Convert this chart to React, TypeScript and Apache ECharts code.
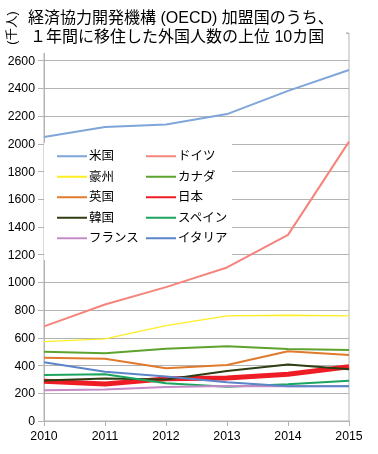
import React, { useEffect, useRef } from "react";
import * as echarts from "echarts";

const years = ["2010", "2011", "2012", "2013", "2014", "2015"];

const seriesNames = ["米国", "ドイツ", "豪州", "カナダ", "英国", "日本", "韓国", "スペイン", "フランス", "イタリア"];
const usa = [2050, 2122, 2140, 2215, 2382, 2533];
const germany = [683, 841, 966, 1108, 1343, 2016];
const australia = [573, 592, 688, 758, 763, 758];
const canada = [500, 489, 522, 540, 520, 512];
const uk = [457, 450, 380, 404, 503, 477];
const japan = [287, 267, 304, 310, 337, 391];
const korea = [293, 307, 300, 360, 407, 373];
const spain = [332, 337, 272, 248, 265, 291];
const france = [222, 228, 245, 252, 250, 252];
const italy = [424, 356, 321, 279, 250, 250];

const seriesValues = [usa, germany, australia, canada, uk, japan, korea, spain, france, italy];
const seriesColors = ["#7ea6da", "#f4847c", "#ffee22", "#5ea32e", "#e07a2c", "#ee1c25", "#2e3d12", "#1ba55f", "#c48bc8", "#5b85c8"];
const seriesWidths = [2, 2, 1.3, 2, 2, 5, 2, 2, 2, 2];

const legendLeft = ["米国", "豪州", "英国", "韓国", "フランス"];
const legendRight = ["ドイツ", "カナダ", "日本", "スペイン", "イタリア"];

const titleLine1 = "経済協力開発機構 (OECD) 加盟国のうち、";
const titleLine2 = "１年間に移住した外国人数の上位 10カ国";
const yName = "(千人)";

const FONT = "'Liberation Sans', 'Noto Sans CJK JP', sans-serif";

export default function App() {
  const ref = useRef<HTMLDivElement>(null);
  useEffect(() => {
    if (!ref.current) return;
    const chart = echarts.init(ref.current, null, { renderer: "svg" });
    const legendCommon = {
      orient: "vertical",
      padding: 0,
      itemWidth: 30,
      itemHeight: 14,
      itemGap: 8,
      itemStyle: { opacity: 0 },
      textStyle: { color: "#000", fontSize: 12.5, fontFamily: FONT, padding: [0, 0, 0, -3] },
      inactiveColor: "#ccc",
    };
    chart.setOption({
      animation: false,
      textStyle: { fontFamily: FONT },
      grid: {
        left: 44,
        right: 29,
        top: 33,
        bottom: 33,
        show: true,
        borderColor: "#b3b3b3",
        borderWidth: 1,
      },
      legend: [
        { ...legendCommon, data: legendLeft, left: 56, top: 150 },
        { ...legendCommon, data: legendRight, left: 145, top: 150 },
      ],
      xAxis: {
        type: "category",
        data: years,
        boundaryGap: false,
        axisLine: { lineStyle: { color: "#b3b3b3" } },
        axisTick: { length: 5, lineStyle: { color: "#b3b3b3" } },
        axisLabel: { color: "#000", fontSize: 12.3, margin: 9, fontFamily: FONT },
        splitLine: { show: false },
      },
      yAxis: {
        type: "value",
        min: 0,
        max: 2800,
        interval: 200,
        axisLine: { show: true, lineStyle: { color: "#b3b3b3" } },
        axisTick: { show: true, length: 6, lineStyle: { color: "#b3b3b3" } },
        axisLabel: {
          color: "#000",
          fontSize: 12.3,
          margin: 9,
          fontFamily: FONT,
          formatter: (v: number) => (v >= 2800 ? "" : String(v)),
        },
        splitLine: { show: true, lineStyle: { color: "#b3b3b3" } },
      },
      series: seriesNames.map((name, i) => ({
        name,
        type: "line",
        data: seriesValues[i],
        symbol: "none",
        color: seriesColors[i],
        lineStyle: { color: seriesColors[i], width: seriesWidths[i] },
      })),
      graphic: [
        {
          type: "rect",
          z: 3,
          shape: { x: 44, y: 143, width: 188, height: 117 },
          style: { fill: "#fff" },
        },
        {
          type: "rect",
          z: 100,
          shape: { x: 0, y: 0, width: 346, height: 53 },
          style: { fill: "#fff" },
        },
        {
          type: "text",
          z: 101,
          x: 28,
          y: 17,
          style: {
            text: titleLine1,
            fill: "#000",
            fontSize: 16,
            lineHeight: 17,
            fontFamily: FONT,
            verticalAlign: "middle",
          },
        },
        {
          type: "text",
          z: 101,
          x: 30,
          y: 36,
          style: {
            text: titleLine2,
            fill: "#000",
            fontSize: 16,
            lineHeight: 17,
            fontFamily: FONT,
            verticalAlign: "middle",
          },
        },
        {
          type: "text",
          z: 101,
          x: 12,
          y: 28,
          rotation: Math.PI / 2,
          style: {
            text: yName,
            fill: "#000",
            fontSize: 12.5,
            lineHeight: 13,
            fontFamily: FONT,
            align: "center",
            verticalAlign: "middle",
          },
        },
      ],
    });
    return () => chart.dispose();
  }, []);
  return (
    <div
      ref={ref}
      style={{ position: "fixed", left: 0, top: 0, width: 378, height: 454 }}
    />
  );
}
